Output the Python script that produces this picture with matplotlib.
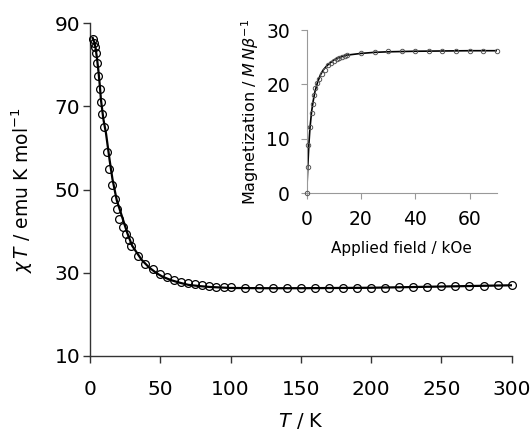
import matplotlib
matplotlib.use('Agg')
import matplotlib.pyplot as plt

plt.rcParams['font.family'] = 'DejaVu Sans'
plt.rcParams['mathtext.fontset'] = 'dejavusans'

# chi*T vs T, measured points
temp = [1.9, 2.6, 3.6, 4.3, 5.0, 5.7, 6.9, 7.8, 8.5, 9.9, 11.8, 13.3, 15.6, 17.8,
        19.4, 20.9, 23.3, 25.4, 27.5, 29.2, 34.1, 39.4, 45, 50, 55, 60, 65, 70,
        75, 80, 85, 90, 95, 100, 110, 120, 130, 140, 150, 160, 170, 180, 190,
        200, 210, 220, 230, 240, 250, 260, 270, 280, 290, 300]
chit = [86.2, 85.3, 84.4, 82.9, 80.4, 77.3, 74.1, 71.0, 68.1, 65.1, 59.0, 54.9,
        51.0, 47.8, 45.4, 42.9, 41.0, 39.3, 38.0, 36.4, 34.0, 32.1, 30.8, 29.7,
        28.9, 28.2, 27.8, 27.5, 27.2, 27.0, 26.8, 26.6, 26.5, 26.5, 26.4, 26.4,
        26.3, 26.3, 26.3, 26.3, 26.3, 26.4, 26.4, 26.4, 26.4, 26.5, 26.7, 26.6,
        26.8, 26.9, 26.9, 26.9, 27.0, 27.0]

# fitted curve
temp_fit = [1.9, 3, 4, 5, 6, 7, 7.8, 9.5, 11.4, 14, 16, 19.0, 22.8, 26.6, 30,
            36.8, 42, 47.4, 52, 58, 64, 70, 78, 85, 100, 125, 150, 175, 200,
            225, 250, 275, 300]
chit_fit = [86.5, 85.5, 84.0, 81.5, 78.5, 75.0, 71.6, 67.0, 63.5, 57.0, 52.5,
            47.5, 43.5, 39.5, 36.5, 33.1, 31.3, 29.9, 29.0, 28.2, 27.6, 27.1,
            26.8, 26.6, 26.35, 26.3, 26.3, 26.35, 26.4, 26.55, 26.7, 26.85, 27.0]

# magnetization inset
field = [0, 0.4, 0.6, 1.2, 1.8, 2.2, 2.7, 3.2, 3.7, 4.7, 5.5, 6.7, 8, 9, 10, 11,
         12, 13, 14, 15, 20, 25, 30, 35, 40, 45, 50, 55, 60, 65, 70]
magn = [0, 4.9, 8.9, 12.2, 14.7, 16.5, 18.1, 19.3, 20.2, 21.0, 21.9, 22.6, 23.6,
        24.0, 24.3, 24.6, 24.9, 25.1, 25.3, 25.4, 25.8, 26.0, 26.1, 26.2, 26.2,
        26.2, 26.2, 26.2, 26.2, 26.2, 26.2]
field_fit = [0, 0.4, 0.8, 1.2, 1.8, 2.4, 3, 4, 5, 6, 7, 8, 10, 12, 15, 20, 25,
             30, 40, 50, 60, 70]
magn_fit = [0, 4.9, 9.0, 12.0, 15.0, 17.0, 18.6, 20.4, 21.7, 22.6, 23.2, 23.7,
            24.5, 25.0, 25.4, 25.7, 25.9, 26.0, 26.1, 26.15, 26.2, 26.2]

fig = plt.figure(figsize=(5.31, 4.32), dpi=100)
ax = fig.add_axes([0.1695, 0.176, 0.794, 0.770])
ax.plot(temp_fit, chit_fit, color='black', lw=1.6, zorder=2)
ax.plot(temp, chit, linestyle='none', marker='o', ms=5.6, mfc='none',
        mec='black', mew=0.9, clip_on=False, zorder=3)
ax.set_xlim(0, 300)
ax.set_ylim(10, 90)
ax.set_xticks([0, 50, 100, 150, 200, 250, 300])
ax.set_yticks([10, 30, 50, 70, 90])
for s in ['top', 'right']:
    ax.spines[s].set_visible(False)
for s in ['left', 'bottom']:
    ax.spines[s].set_color('#333333')
    ax.spines[s].set_linewidth(1.0)
ax.tick_params(direction='out', length=5, width=1.0, color='#333333',
               labelsize=14.5)
ax.tick_params(axis='x', pad=12)
ax.tick_params(axis='y', pad=2)
ax.set_xlabel(r'$\it{T}$ / K', fontsize=14, labelpad=9)
ax.set_ylabel(r'$\chi\,T$ / emu K mol$^{-1}$', fontsize=13.5, labelpad=14)

ins = fig.add_axes([0.5776, 0.5525, 0.3578, 0.378])
ins.plot(field_fit, magn_fit, color='black', lw=1.2, zorder=2)
ins.plot(field, magn, linestyle='none', marker='o', ms=3.2, mfc='none',
         mec='#555555', mew=0.7, clip_on=False, zorder=3)
ins.set_xlim(0, 70)
ins.set_ylim(0, 30)
ins.set_xticks([0, 20, 40, 60])
ins.set_yticks([0, 10, 20, 30])
for s in ['top', 'right']:
    ins.spines[s].set_visible(False)
for s in ['left', 'bottom']:
    ins.spines[s].set_color('#999999')
    ins.spines[s].set_linewidth(0.8)
ins.tick_params(direction='out', length=4, width=0.8, color='#999999',
                labelsize=13.5, pad=8)
ins.set_xlabel('Applied field / kOe', fontsize=11, labelpad=9)
ins.set_ylabel(r'Magnetization / $M\,N\beta^{-1}$', fontsize=11.5,
               labelpad=4)

fig.savefig('out.png', dpi=100)
